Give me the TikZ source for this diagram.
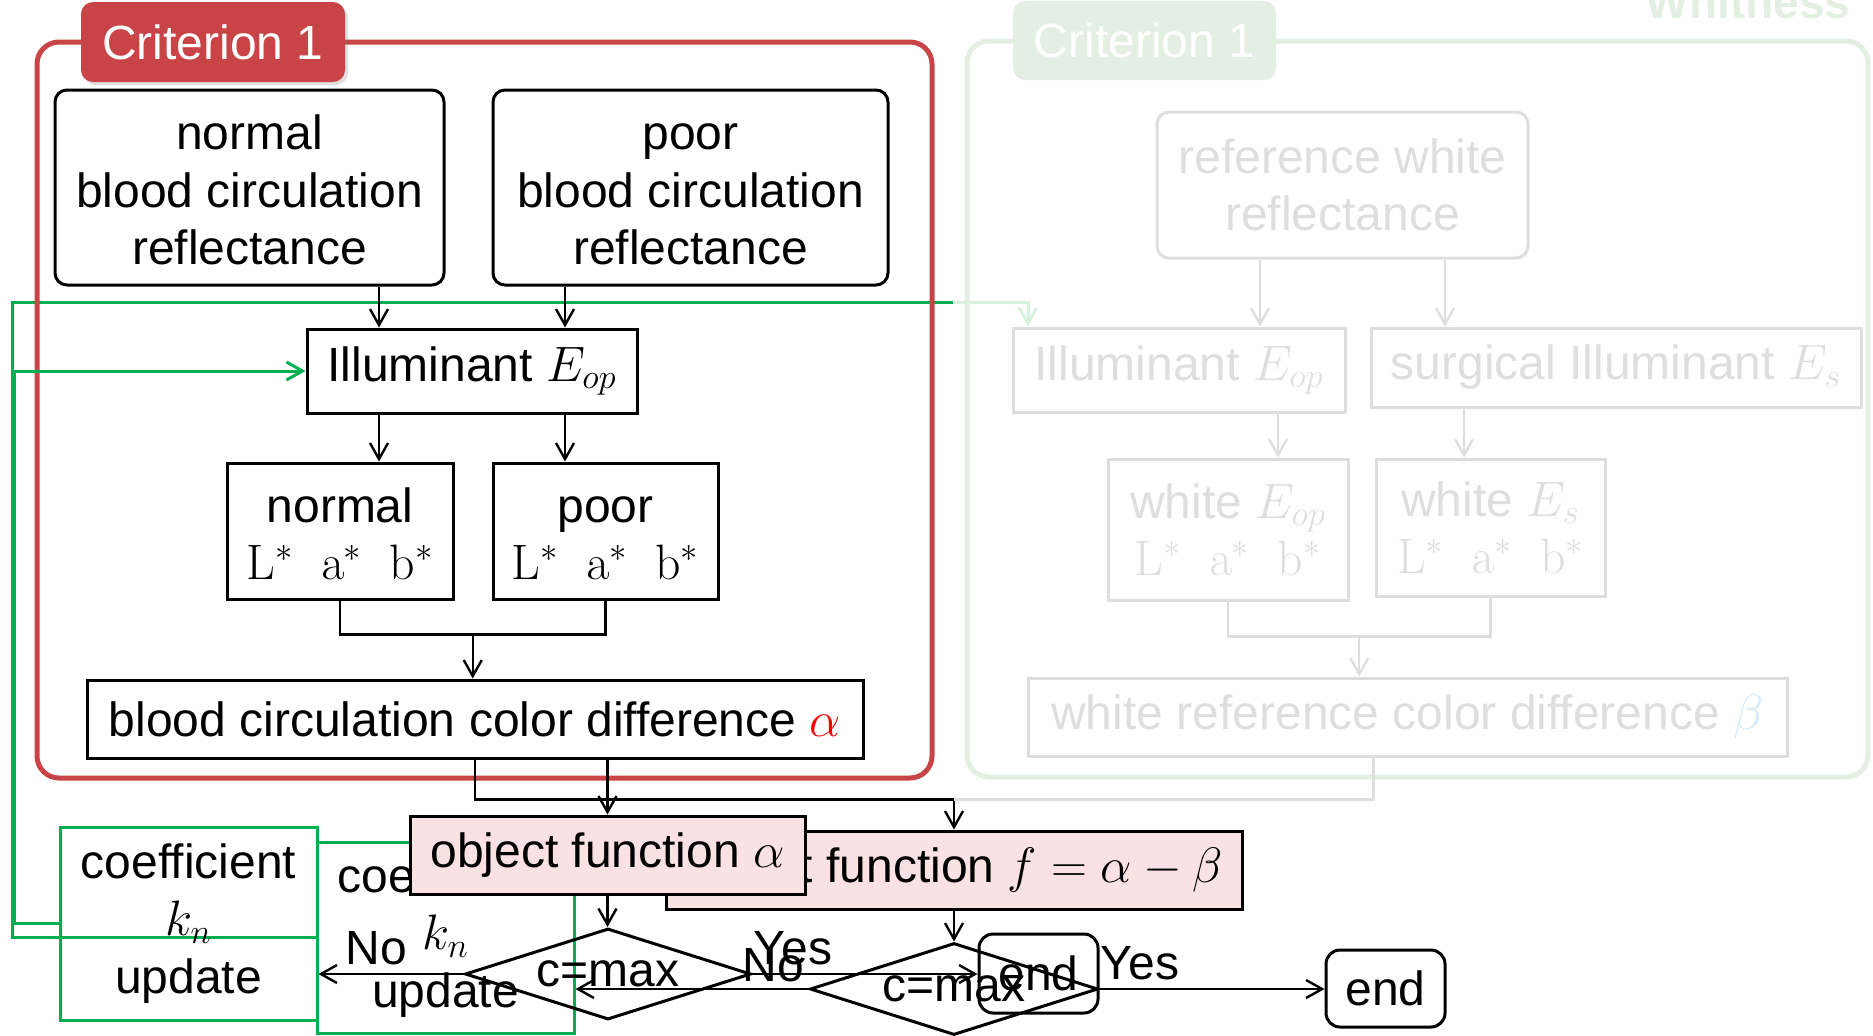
\documentclass[tikz,border=0pt]{standalone}
\usepackage[no-math]{fontspec}
\setmainfont{Liberation Sans}
\usepackage{tikz}
\usetikzlibrary{positioning,arrows.meta,shapes.geometric,calc,shadows}
\definecolor{critred}{HTML}{C84446}
\definecolor{objpink}{HTML}{FAE1E4}
\definecolor{loopgreen}{HTML}{00B050}
\definecolor{ghostgray}{HTML}{DEDEDE}
\definecolor{ghostgreen}{HTML}{E4EFE4}
\definecolor{ghostline}{HTML}{D8F1DF}
\definecolor{ghostblue}{HTML}{D5E8F7}
\newcommand{\slidefont}{\fontsize{24}{28.7}\selectfont}
\newcommand{\labstar}{$\mathrm{L}^{*}\;\;\mathrm{a}^{*}\;\;\mathrm{b}^{*}$}
\tikzset{
  box/.style   ={draw=black,line width=1.5pt,align=center,inner sep=0pt,font=\slidefont},
  rbox/.style  ={box,rounded corners=6pt},
  obj/.style   ={box,fill=objpink},
  coef/.style  ={box,draw=loopgreen},
  dec/.style   ={diamond,aspect=3.1,draw=black,line width=1.5pt,inner sep=0pt,font=\slidefont},
  term/.style  ={box,rounded corners=7pt},
  tab/.style   ={rounded corners=6pt,inner sep=0pt,font=\slidefont,text=white},
  critframe/.style={rounded corners=11pt,line width=2.5pt},
  ghost/.style ={box,draw=ghostgray,text=ghostgray},
  arr/.style   ={-{Straight Barb[length=8pt,width=9pt]},line width=1.2pt},
  garr/.style  ={arr,draw=loopgreen,line width=1.5pt},
  gln/.style   ={draw=loopgreen,line width=1.5pt},
  lbl/.style   ={font=\slidefont,inner sep=1pt},
}
\begin{document}
\begin{tikzpicture}[x=0.5pt,y=-0.5pt]
  \useasboundingbox (0,0) rectangle (1873,1035);

  \node[font=\fontsize{23}{28}\selectfont\bfseries,text=ghostgreen,anchor=base] (whit) at (1748,18) {Whitness};
  \node[critframe,draw=ghostgreen,minimum width=450.5pt,minimum height=368pt] (gcrit) at (1417.5,409) {};
  \node[tab,fill=ghostgreen,minimum width=131.5pt,minimum height=39.5pt] (gtab) at (1144.5,40.5) {Criterion 1};
  \node[ghost,rounded corners=6pt,minimum width=185.5pt,minimum height=73pt] (gref) at (1342.5,185) {reference white\\reflectance};
  \node[ghost,minimum width=166pt,minimum height=42pt] (gill) at (1179,370) {Illuminant $E_{op}$};
  \node[ghost,minimum width=245pt,minimum height=39.5pt] (gsurg) at (1616,367.5) {surgical Illuminant $E_s$};
  \node[ghost,minimum width=120pt,minimum height=70.5pt] (gwop) at (1228,529.5) {white $E_{op}$\\\labstar};
  \node[ghost,minimum width=114.5pt,minimum height=68.5pt] (gwes) at (1490.5,527.5) {white $E_s$\\\labstar};
  \node[ghost,minimum width=379.5pt,minimum height=39pt] (gbeta) at (1407.5,717) {white reference color difference {\color{ghostblue}$\beta$}};

  \coordinate (gr1) at ([xshift=-41.25pt]gref.south);
  \coordinate (gr2) at ([xshift=51.25pt]gref.south);
  \coordinate (gi1) at ([xshift=49.5pt]gill.south);
  \coordinate (gs1) at ([xshift=-76pt]gsurg.south);
  \coordinate (gb1) at ([xshift=-17pt]gbeta.south);
  \coordinate (gi0) at ([xshift=-75.5pt]gill.north);
  \draw[arr,ghostgray] (gr1) -- (gr1 |- gill.north);
  \draw[arr,ghostgray] (gr2) -- (gr2 |- gsurg.north);
  \draw[arr,ghostgray] (gi1) -- (gi1 |- gwop.north);
  \draw[arr,ghostgray] (gs1) -- (gs1 |- gwes.north);
  \draw[ghostgray,line width=1.2pt] (gwop.south) -- ++(0,35) coordinate (gm1) -- (gm1 -| gwes.south) -- (gwes.south);
  \coordinate (gm) at ($(gm1)!.5!(gm1 -| gwes.south)$);
  \draw[arr,ghostgray] (gm) -- (gm |- gbeta.north);

  \node[obj,minimum width=288pt,minimum height=39pt] (fobj) at (954,870) {object function $f=\alpha-\beta$};
  \node[coef,minimum width=128.5pt,minimum height=95.5pt] (coefB) at (445.5,937.5) {coefficient\\$k_n$\\update};
  \node[dec,minimum width=144pt,minimum height=46pt] (dia2) at (954,989) {c=max};
  \node[term,minimum width=59.5pt,minimum height=38.5pt] (endB) at (1385.5,988.5) {end};

  \draw[arr] (fobj.south) -- (dia2.north);
  \draw[arr] (dia2.east) -- node[lbl,above=3pt,pos=.18]{Yes} (dia2.east -| endB.west);
  \draw[arr] (dia2.west) -- node[lbl,above=2pt,pos=.15]{No} (dia2.west -| coefB.east);
  \coordinate (lpB) at (12,302);
  \coordinate (gsplit) at (953,302);
  \draw[gln] (coefB.west) -| (lpB) -- (gsplit);
  \draw[arr,draw=ghostline,line width=1.5pt] (gsplit) -| (gi0);

  \node[critframe,draw=critred,minimum width=447.5pt,minimum height=368pt] (crit) at (484.5,410) {};
  \node[tab,fill=critred,minimum width=132pt,minimum height=40pt,drop shadow={opacity=.25,shadow xshift=1.5pt,shadow yshift=-1.5pt}] (tab) at (213,42) {Criterion 1};
  \node[rbox,minimum width=194.5pt,minimum height=97.5pt] (nrmrf) at (249.5,187.5) {\strut normal\\blood circulation\\reflectance};
  \node[rbox,minimum width=197.5pt,minimum height=97.5pt] (porrf) at (690.5,187.5) {\strut poor\\blood circulation\\reflectance};
  \node[box,minimum width=165pt,minimum height=42pt] (illum) at (472,371) {Illuminant $E_{op}$};
  \node[box,minimum width=113pt,minimum height=68pt] (nrmlab) at (340,531) {\strut normal\\\labstar};
  \node[box,minimum width=112.5pt,minimum height=68pt] (porlab) at (605.5,531) {\strut poor\\\labstar};
  \node[box,minimum width=388pt,minimum height=39pt] (alpha) at (475,719) {blood circulation color difference \textcolor{red}{$\alpha$}};

  \draw[arr] (alpha.south) -- ++(0,40) coordinate (jl) -| (fobj.north);
  \coordinate (jn) at (jl -| fobj.north);
  \draw[ghostgray,line width=1.2pt] (gb1) |- (jn);

  \node[obj,minimum width=197.5pt,minimum height=39pt] (objA) at (607.5,855) {object function $\alpha$};
  \node[dec,minimum width=143pt,minimum height=45.5pt] (dia1) at (608,974) {c=max};
  \node[term,minimum width=59.5pt,minimum height=39.5pt] (endA) at (1038.5,973.5) {end};
  \node[coef,minimum width=128.5pt,minimum height=96.5pt] (coefA) at (188.5,923.5) {coefficient\\$k_n$\\update};

  \coordinate (i1) at ([xshift=-46.5pt]illum.north);
  \coordinate (i2) at ([xshift=46.5pt]illum.north);
  \coordinate (o1) at ([xshift=-46.5pt]illum.south);
  \coordinate (o2) at ([xshift=46.5pt]illum.south);
  \draw[arr] (nrmrf.south -| i1) -- (i1);
  \draw[arr] (porrf.south -| i2) -- (i2);
  \draw[arr] (o1) -- (o1 |- nrmlab.north);
  \draw[arr] (o2) -- (o2 |- porlab.north);
  \draw[line width=1.2pt] (nrmlab.south) -- ++(0,34) coordinate (m1) -- (m1 -| porlab.south) -- (porlab.south);
  \coordinate (mg) at ($(m1)!.5!(m1 -| porlab.south)$);
  \draw[arr] (mg) -- (mg |- alpha.north);
  \draw[arr] (alpha.south -| objA.north) -- (objA.north);
  \draw[arr] (objA.south) -- (objA.south |- dia1.north);
  \draw[arr] (dia1.east) -- node[lbl,above=3pt,pos=.18]{Yes} (dia1.east -| endA.west);
  \draw[arr] (dia1.west) -- node[lbl,above=3pt,pos=.6]{No} (dia1.west -| coefA.east);
  \coordinate (lpA) at (14,371);
  \draw[garr] (coefA.west) -| (lpA) -- (illum.west);
\end{tikzpicture}
\end{document}
